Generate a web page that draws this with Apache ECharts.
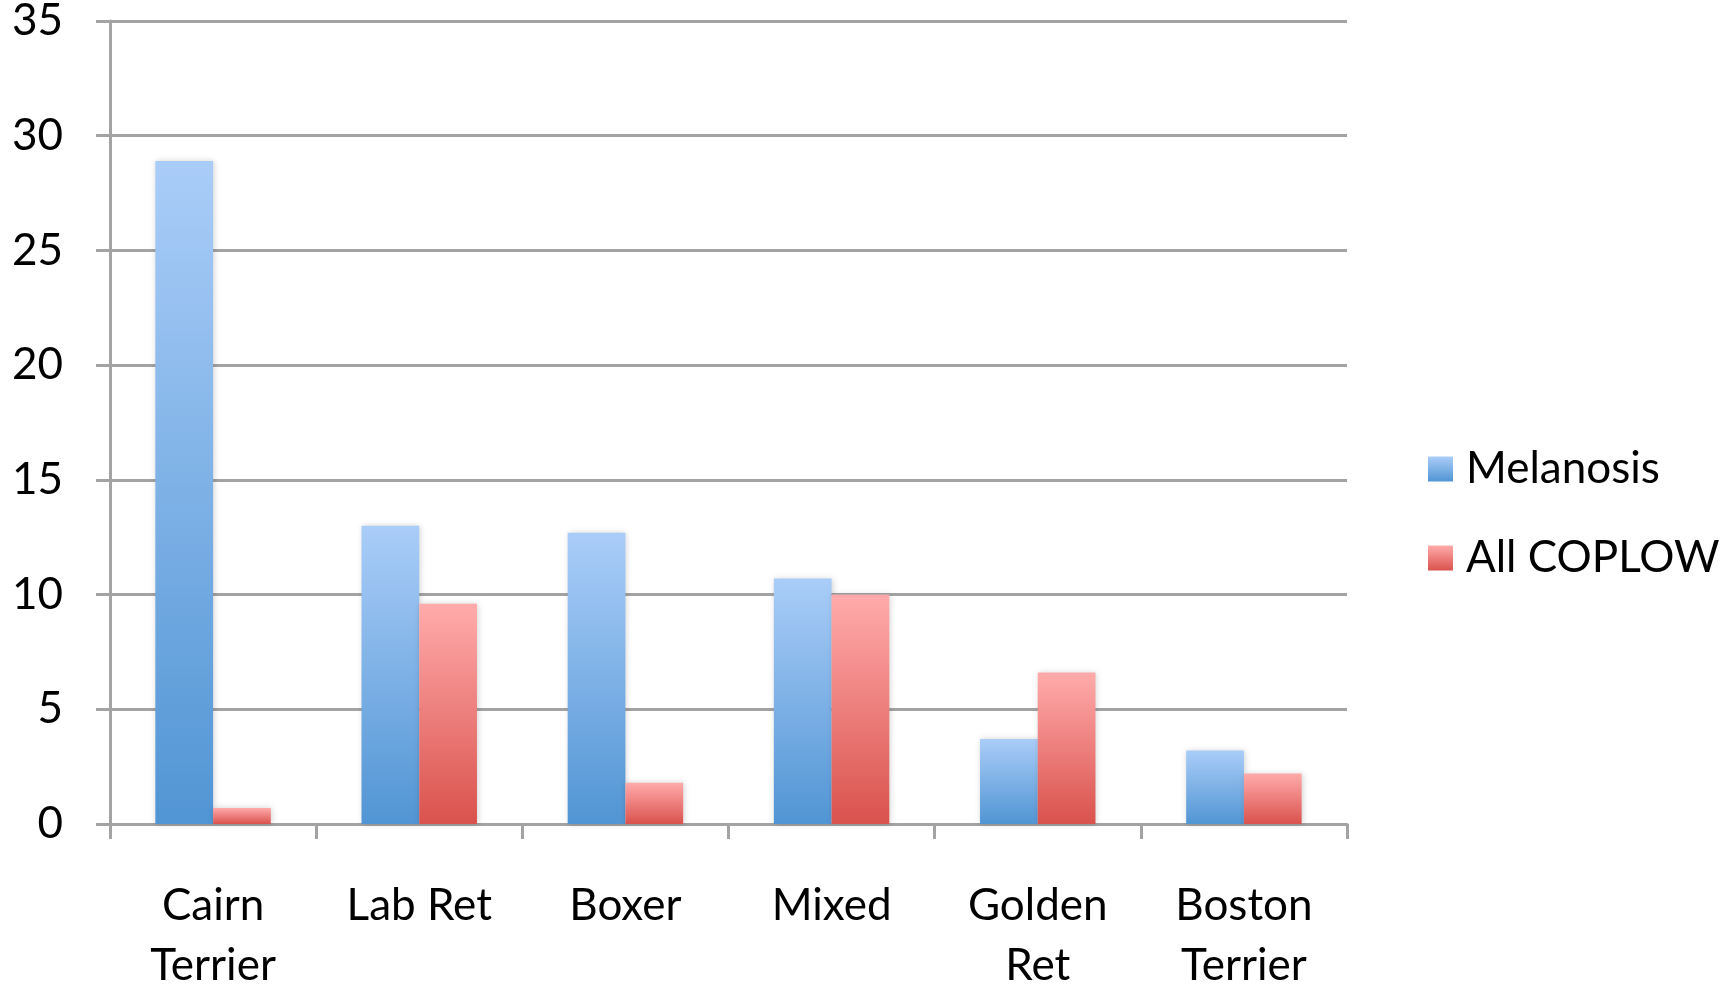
<!DOCTYPE html>
<html>
<head>
<meta charset="utf-8">
<script src="https://cdn.jsdelivr.net/npm/echarts@6/dist/echarts.min.js"></script>
<style>
  html, body { margin: 0; padding: 0; background: #fff; }
  #chart { width: 1727px; height: 985px; }
</style>
</head>
<body>
<div id="chart"></div>
<script>
// values
var breeds = ['Cairn\nTerrier', 'Lab Ret', 'Boxer', 'Mixed', 'Golden\nRet', 'Boston\nTerrier']
var melanosis = [28.9, 13.0, 12.7, 10.7, 3.7, 3.2]
var allCoplow = [0.7, 9.6, 1.8, 10.0, 6.6, 2.2]
var seriesNames = ['Melanosis', 'All COPLOW']

var FONT = 'Lato, "Open Sans", sans-serif'
var GRID_GRAY = '#a3a3a3'

function grad (top, bottom) {
  return new echarts.graphic.LinearGradient(0, 0, 0, 1, [
    {offset: 0, color: top},
    {offset: 1, color: bottom}
  ])
}

var blue = grad('#aacdf8', '#5195d4')
var red = grad('#ffabab', '#da524d')

var myChart = echarts.init(document.getElementById('chart'))
var option = {
  backgroundColor: '#fff',
  animation: false,
  grid: {left: 110, right: 380, top: 21, bottom: 161, outerBoundsMode: 'none'},
  legend: {
    orient: 'vertical',
    left: 1423,
    top: 442,
    icon: 'rect',
    itemWidth: 25,
    itemHeight: 25,
    itemGap: 45,
    textStyle: {fontFamily: FONT, fontSize: 44, color: '#000', lineHeight: 44, padding: [0, 0, 0, 8]},
    data: seriesNames
  },
  xAxis: {
    type: 'category',
    data: breeds,
    axisLine: {lineStyle: {color: GRID_GRAY, width: 3}},
    axisTick: {show: true, length: 15, lineStyle: {color: GRID_GRAY, width: 3}},
    axisLabel: {fontFamily: FONT, fontSize: 44, color: '#000', lineHeight: 60, margin: 52}
  },
  yAxis: {
    type: 'value',
    min: 0,
    max: 35,
    interval: 5,
    axisLine: {show: true, lineStyle: {color: GRID_GRAY, width: 3}},
    axisTick: {show: true, length: 14, lineStyle: {color: GRID_GRAY, width: 3}},
    splitLine: {lineStyle: {color: GRID_GRAY, width: 3}},
    // labels sit a little below their gridlines in the original
    axisLabel: {fontFamily: FONT, fontSize: 44, color: '#000', margin: 47, padding: [10, 0, 0, 0]}
  },
  series: [{
    name: seriesNames[0],
    type: 'bar',
    data: melanosis,
    barGap: '0%',
    barCategoryGap: '44%',
    itemStyle: {color: blue, shadowBlur: 6, shadowColor: 'rgba(0,0,0,0.18)', shadowOffsetX: 1}
  }, {
    name: seriesNames[1],
    type: 'bar',
    data: allCoplow,
    barGap: '0%',
    barCategoryGap: '44%',
    itemStyle: {color: red, shadowBlur: 6, shadowColor: 'rgba(0,0,0,0.18)', shadowOffsetX: 1}
  }]
}
myChart.setOption(option)
</script>
</body>
</html>
